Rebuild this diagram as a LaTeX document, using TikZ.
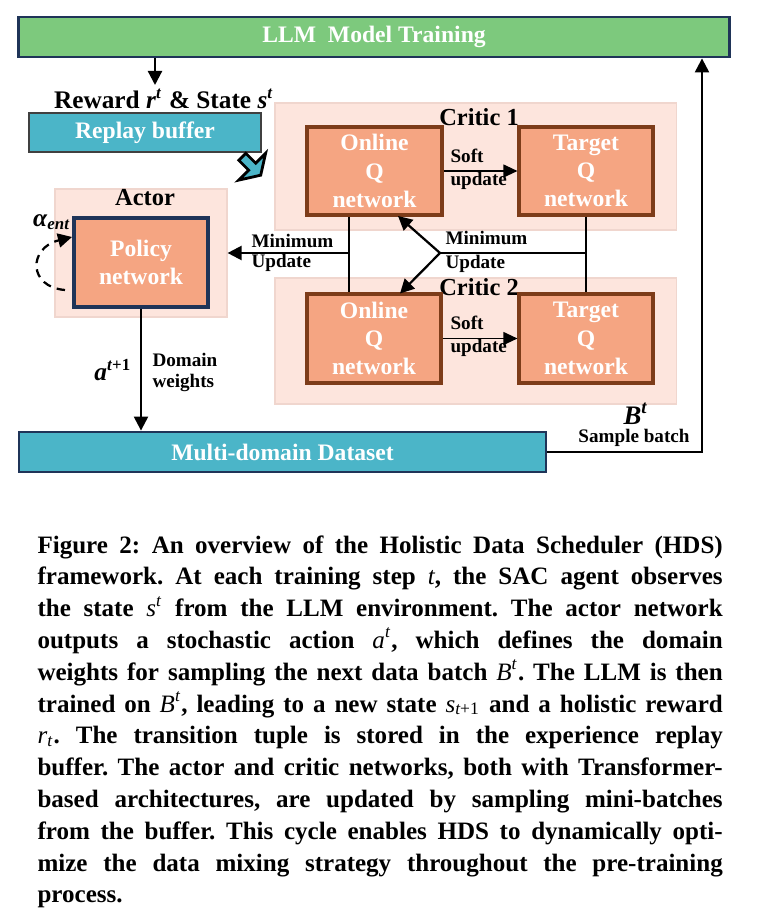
\documentclass[tikz,border=0pt]{standalone}
\usepackage{fontspec}
\setmainfont{Liberation Serif}
\usetikzlibrary{arrows.meta}
\frenchspacing

\definecolor{llmgreen}{RGB}{125,201,125}
\definecolor{navyline}{RGB}{31,52,88}
\definecolor{bufteal}{RGB}{75,181,200}
\definecolor{grayline}{RGB}{64,64,64}
\definecolor{qsalmon}{RGB}{245,165,130}
\definecolor{brownline}{RGB}{125,60,25}
\definecolor{pinkbg}{RGB}{253,229,221}
\definecolor{pinkline}{RGB}{240,214,206}

\newcommand\mainlab{\fontsize{8.4}{10}\selectfont\bfseries}
\newcommand\smalllab{\fontsize{6.8}{7.1}\selectfont\bfseries}
\newcommand\vr[1]{{\mdseries\itshape #1}}
\newlength\capw
\setlength\capw{8.5625cm}
\newcommand\capline[1]{\noindent\makebox[\capw][s]{#1}\par}

\tikzset{
  greenbox/.style={draw=navyline, line width=1pt, fill=llmgreen, text=white, font=\mainlab, inner sep=0pt},
  tealbox/.style={line width=1pt, fill=bufteal, text=white, font=\mainlab, inner sep=0pt},
  qbox/.style={draw=brownline, line width=1.1pt, fill=qsalmon, text=white, font=\mainlab, align=center, inner sep=0pt, minimum height=1.1cm},
  panel/.style={draw=pinkline, line width=0.4pt, fill=pinkbg, inner sep=0pt},
  paneltitle/.style={font=\fontsize{8.7}{10}\selectfont\bfseries, inner sep=0pt},
  arr/.style={line width=0.8pt, -{Triangle[length=5pt,width=5pt]}},
  thinarr/.style={line width=0.5pt, -{Triangle[length=5pt,width=4.6pt]}},
  lab/.style={inner sep=0pt, align=left}
}

\begin{document}
\begin{tikzpicture}[x=0.0125cm, y=-0.0125cm]
\useasboundingbox (0,0) rectangle (758,922);

% top block
\node[greenbox, minimum width=8.875cm, minimum height=0.5cm] (llm) at (374,37) {LLM\ \ Model Training};
\coordinate (rw) at (155,85);
\draw[arr] (llm.south -| rw) -- (rw);
\node[inner sep=0pt, font=\fontsize{9}{10}\selectfont\bfseries] (reward) at (164,99)
  {Reward \textit{r}\textsuperscript{\textit{t}} \& State \textit{s}\textsuperscript{\textit{t}}};
\node[tealbox, draw=grayline, minimum width=2.9cm, minimum height=0.4875cm] (replay) at (145,132.5) {Replay buffer};
\draw[fill=bufteal, line width=1pt, line join=miter]
  (245.8,153.3) -- (255.7,163.2) -- (265.6,153.3) -- (260.7,175.2)
  -- (238.8,180.1) -- (248.7,170.2) -- (238.8,160.3) -- cycle;

% actor
\node[panel, minimum width=2.15cm, minimum height=1.6cm] (actor) at (141,253) {};
\node[paneltitle] (actorlab) at (145,198) {Actor};
\node[qbox, draw=navyline, minimum width=1.675cm, minimum height=1.1125cm] (policy) at (141,262.5) {Policy\\network};
\node[inner sep=0pt, font=\fontsize{9}{10}\selectfont\bfseries] (alpha) at (52,222) {\textit{α}\textsubscript{\textit{ent}}};
\coordinate (loopst) at (65,290);
\coordinate (loopend) at (72,237);
\draw[arr, dash pattern=on 3pt off 2.2pt] (loopst) .. controls (28,287) and (28,248) .. (loopend);

% critics
\node[panel, minimum width=5.0125cm, minimum height=1.5875cm] (crit1) at (475.5,166.5) {};
\node[panel, minimum width=5.0125cm, minimum height=1.575cm] (crit2) at (475.5,341) {};
\node[paneltitle] (crit1lab) at (479,117) {Critic 1};
\node[paneltitle] (crit2lab) at (479,287) {Critic 2};

\node[qbox, minimum width=1.6875cm] (on1) at (374.5,171) {Online\\Q\\network};
\node[qbox, minimum width=1.675cm] (tg1) at (586,171) {Target\\Q\\network};
\node[qbox, minimum width=1.675cm, minimum height=1.1125cm] (on2) at (374,338.5) {Online\\Q\\network};
\node[qbox, minimum width=1.675cm, minimum height=1.1125cm] (tg2) at (586,338.5) {Target\\Q\\network};

\draw[thinarr] (on1.east) -- (tg1.west);
\draw[thinarr] (on2.east) -- (tg2.west);
\node[lab, font=\fontsize{6.8}{8.2}\selectfont\bfseries, anchor=west] (soft1) at (450,169.5) {Soft\\update};
\node[lab, font=\fontsize{6.8}{8.2}\selectfont\bfseries, anchor=west] (soft2) at (450,336.5) {Soft\\update};

% minimum update to the actor
\coordinate (jn) at (349,253);
\draw[line width=0.8pt] (on1.south -| jn) -- (on2.north -| jn);
\draw[arr] (jn) -- (jn -| actor.east);
\node[lab, font=\fontsize{6.8}{7.1}\selectfont\bfseries, anchor=west] (minl) at (251,253) {Minimum\\Update};

% minimum update to the online networks
\coordinate (br) at (440,253);
\coordinate (q1) at (398,216);
\coordinate (q2) at (400,293.5);
\draw[line width=0.8pt] (tg1.south) -- (tg2.north);
\draw[line width=0.8pt] (tg1.south |- br) -- (br);
\draw[arr] (br) -- (q1);
\draw[arr] (br) -- (q2);
\node[lab, font=\fontsize{6.8}{8.5}\selectfont\bfseries, anchor=west] (minr) at (445,252) {Minimum\\Update};

% dataset
\node[tealbox, draw=navyline, minimum width=6.5875cm, minimum height=0.5cm] (data) at (282.5,452) {Multi-domain Dataset};
\draw[arr] (policy.south) -- (policy.south |- data.north);
\node[inner sep=0pt, font=\fontsize{9}{10}\selectfont\bfseries] (act) at (113,370) {\textit{a}\textsuperscript{\textit{t}+1}};
\node[lab, font=\fontsize{6.8}{7.5}\selectfont\bfseries, anchor=west] (dw) at (152,372.5) {Domain\\weights};

\coordinate (fb) at (702,452);
\draw[arr] (data.east) -- (fb) -- (fb |- llm.south);
\node[inner sep=0pt, font=\fontsize{9.5}{11}\selectfont\bfseries] (bt) at (636,414) {\textit{B}\textsuperscript{\textit{t}}};
\node[inner sep=0pt, font=\smalllab] (sb) at (634,438) {Sample batch};

% caption
\node[anchor=north west, inner sep=0pt] (cap) at (37,535) {\begin{minipage}{\capw}
\fontsize{8.9}{11.3}\selectfont\bfseries
\capline{Figure 2: An overview of the Holistic Data Scheduler (HDS)}
\capline{framework. At each training step \vr{t}, the SAC agent observes}
\capline{the state \vr{s}\textsuperscript{\vr{t}} from the LLM environment. The actor network}
\capline{outputs a stochastic action \vr{a}\textsuperscript{\vr{t}}, which defines the domain}
\capline{weights for sampling the next data batch \vr{B}\textsuperscript{\vr{t}}. The LLM is then}
\capline{trained on \vr{B}\textsuperscript{\vr{t}}, leading to a new state \vr{s}\textsubscript{\vr{t}\mdseries+1} and a holistic reward}
\capline{\vr{r}\textsubscript{\vr{t}}. The transition tuple is stored in the experience replay}
\capline{buffer. The actor and critic networks, both with Transformer-}
\capline{based architectures, are updated by sampling mini-batches}
\capline{from the buffer. This cycle enables HDS to dynamically opti-}
\capline{mize the data mixing strategy throughout the pre-training}
\noindent process.
\end{minipage}};
\end{tikzpicture}
\end{document}
